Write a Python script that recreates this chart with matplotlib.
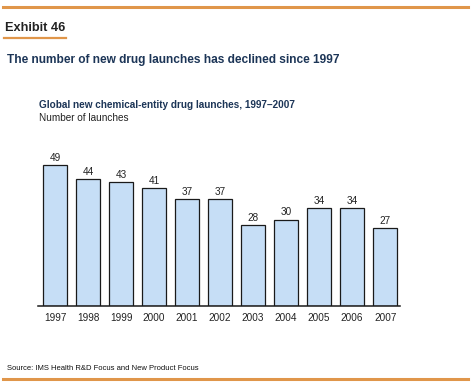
import matplotlib
matplotlib.use("Agg")
import matplotlib.pyplot as plt
from matplotlib.lines import Line2D

plt.rcParams['font.family'] = ['Liberation Sans', 'DejaVu Sans']

years = ['1997', '1998', '1999', '2000', '2001', '2002', '2003', '2004', '2005', '2006', '2007']
launches = [49, 44, 43, 41, 37, 37, 28, 30, 34, 34, 27]

ORANGE = '#e0964a'
NAVY = '#1c3557'
BAR = '#c6def6'

W, H = 475, 390
fig = plt.figure(figsize=(W / 100, H / 100), dpi=100)

def fx(px):
    return px / W

def fy(py):
    return 1 - py / H

# header / footer rules
fig.add_artist(Line2D([fx(3), fx(468)], [fy(7), fy(7)], color=ORANGE, lw=2.2))
fig.add_artist(Line2D([fx(4), fx(66)], [fy(37.5), fy(37.5)], color=ORANGE, lw=1.6))
fig.add_artist(Line2D([fx(3), fx(468)], [fy(379), fy(379)], color=ORANGE, lw=2.2))

fig.text(fx(5), fy(28), 'Exhibit 46', fontsize=9.2, fontweight='bold', color='#222222', va='center')
fig.text(fx(7), fy(60), 'The number of new drug launches has declined since 1997',
         fontsize=8.6, fontweight='bold', color=NAVY, va='center')
fig.text(fx(39), fy(105), 'Global new chemical-entity drug launches, 1997\u20132007',
         fontsize=7.2, fontweight='bold', color=NAVY, va='center')
fig.text(fx(39), fy(118), 'Number of launches', fontsize=7.2, color='#222222', va='center')
fig.text(fx(7), fy(368), 'Source: IMS Health R&D Focus and New Product Focus',
         fontsize=5.5, color='#111111', va='center')

# chart area
ymax = 55
px_per_unit = 2.87
base = 305.6
ax_h = ymax * px_per_unit
ax = fig.add_axes([fx(38), fy(base), fx(400) - fx(38), ax_h / H])

x = list(range(len(years)))
bars = ax.bar(x, launches, width=0.73, color=BAR, edgecolor='#1a1a1a', linewidth=0.9)
for xi, v in zip(x, launches):
    ax.text(xi, v + 0.8, str(v), ha='center', va='bottom', fontsize=7.2, color='#222222')

ax.set_xlim(-0.515, 10.45)
ax.set_ylim(0, ymax)
ax.set_xticks(x)
ax.set_xticklabels(years, fontsize=7.2, color='#222222')
ax.tick_params(axis='x', length=0, pad=5.5)
ax.set_yticks([])
for s in ['top', 'right', 'left']:
    ax.spines[s].set_visible(False)
ax.spines['bottom'].set_linewidth(1.1)
ax.spines['bottom'].set_color('#1a1a1a')
ax.patch.set_alpha(0)

fig.savefig('out.png', dpi=100)
